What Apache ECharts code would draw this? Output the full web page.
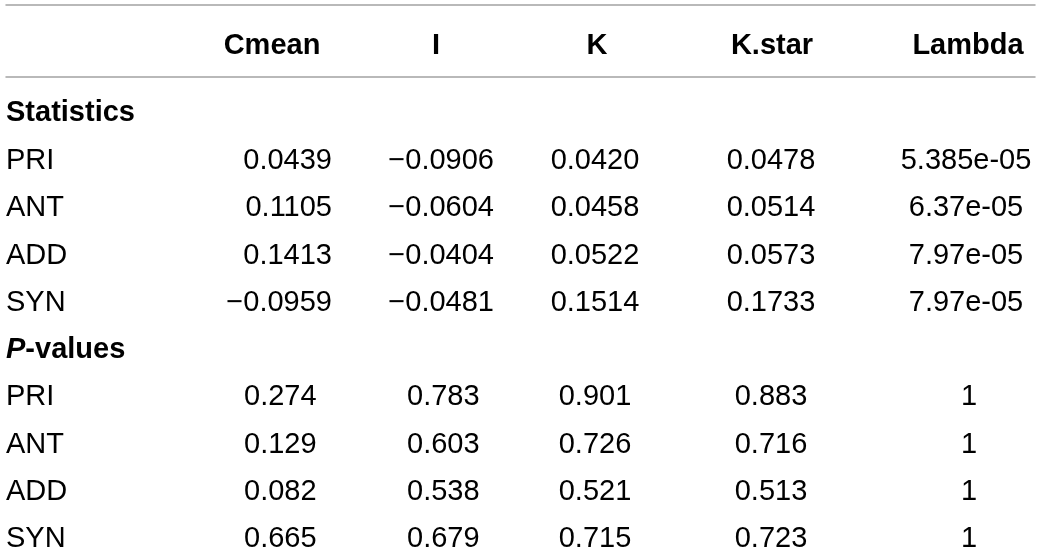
<!DOCTYPE html>
<html>
<head>
<meta charset="utf-8">
<title>Statistics and P-values</title>
<script src="https://cdn.jsdelivr.net/npm/echarts@6/dist/echarts.min.js"></script>
<style>
    html, body { margin: 0; padding: 0; background: #fff; }
    #main { width: 1040px; height: 554px; }
</style>
</head>
<body>
<div id="main"></div>
<script>
// column headers and row names
var columns = ['Cmean', 'I', 'K', 'K.star', 'Lambda'];
var groups = ['Statistics', 'P-values'];
var rowNames = ['PRI', 'ANT', 'ADD', 'SYN'];

// Statistics block
var statCmean = [0.0439, 0.1105, 0.1413, -0.0959];
var statI = [-0.0906, -0.0604, -0.0404, -0.0481];
var statK = [0.0420, 0.0458, 0.0522, 0.1514];
var statKstar = [0.0478, 0.0514, 0.0573, 0.1733];
var statLambda = [5.385e-5, 6.37e-5, 7.97e-5, 7.97e-5];

// P-values block
var pCmean = [0.274, 0.129, 0.082, 0.665];
var pI = [0.783, 0.603, 0.538, 0.679];
var pK = [0.901, 0.726, 0.521, 0.715];
var pKstar = [0.883, 0.716, 0.513, 0.723];
var pLambda = [1, 1, 1, 1];

// layout: x anchors (px) and text alignment per column
var headX = [272, 436, 597, 772, 968];
var statX = [332, 494, 595, 771, 966];
var statAlign = ['right', 'right', 'center', 'center', 'center'];
var pX = [244, 407, 595, 771, 969];
var pAlign = ['left', 'left', 'center', 'center', 'center'];
var labelX = 6;

var FONT = 'Liberation Sans, Arial, Helvetica, sans-serif';
var SIZE = 29;
var TEXT = '#000';
var RULE = '#a3a3a3';

function fmtStat(v) {
    return v.toFixed(4).replace('-', '\u2212');
}
function fmtSci(v) {
    // 5.385e-5 -> 5.385e-05
    return v.toExponential().replace(/e([+-])(\d)$/, function (m, s, d) { return 'e' + s + '0' + d; });
}
function fmtP(v) {
    return Number.isInteger(v) ? String(v) : v.toFixed(3);
}

// body rows: 0 = Statistics, 1-4 rows, 5 = P-values, 6-9 rows
var rowKeys = [groups[0]].concat(rowNames.map(function (r) { return 's:' + r; }))
    .concat([groups[1]]).concat(rowNames.map(function (r) { return 'p:' + r; }));

function textSeries(name, gridIdx, data, align, extraLabel) {
    var label = {
        show: true,
        position: 'inside',
        align: align,
        verticalAlign: 'middle',
        fontFamily: FONT,
        fontSize: SIZE,
        color: TEXT,
        textBorderWidth: 0,
        opacity: 1,
        offset: [0, 2],
        formatter: function (p) { return p.value[2]; }
    };
    for (var k in extraLabel) label[k] = extraLabel[k];
    return {
        name: name,
        type: 'scatter',
        xAxisIndex: gridIdx === 0 ? 0 : 2,
        yAxisIndex: gridIdx,
        symbolSize: 1,
        itemStyle: { color: '#fff', opacity: 0 },
        silent: true,
        animation: false,
        label: label,
        data: data
    };
}

var series = [];

// header row
series.push(textSeries('header', 0, columns.map(function (c, i) {
    return [headX[i], 0, c];
}), 'center', { fontWeight: 'bold', offset: [0, 5] }));

// group titles
series.push(textSeries('groups', 1, [[labelX, 0, groups[0]]], 'left', { fontWeight: 'bold', offset: [0, 1] }));
series.push(textSeries('groupP', 1, [[labelX, 5, groups[1]]], 'left', {
    formatter: function () { return '{bi|P}{b|-values}'; },
    rich: {
        bi: { fontFamily: FONT, fontSize: SIZE, fontWeight: 'bold', fontStyle: 'italic', color: TEXT },
        b: { fontFamily: FONT, fontSize: SIZE, fontWeight: 'bold', color: TEXT }
    }
}));

// row names
var names = [];
rowNames.forEach(function (r, i) {
    names.push([labelX, 1 + i, r]);
    names.push([labelX, 6 + i, r]);
});
series.push(textSeries('rows', 1, names, 'left', {}));

// values
var statCols = [statCmean, statI, statK, statKstar, statLambda];
var pCols = [pCmean, pI, pK, pKstar, pLambda];
statCols.forEach(function (col, c) {
    series.push(textSeries('stat ' + columns[c], 1, col.map(function (v, i) {
        return [statX[c], 1 + i, c === 4 ? fmtSci(v) : fmtStat(v)];
    }), statAlign[c], {}));
});
pCols.forEach(function (col, c) {
    series.push(textSeries('p ' + columns[c], 1, col.map(function (v, i) {
        return [pX[c], 6 + i, fmtP(v)];
    }), pAlign[c], {}));
});

var ruleAxis = function (pos) {
    return {
        type: 'value', gridIndex: 0, position: pos, min: 6, max: 1035,
        axisLine: { show: true, onZero: false, lineStyle: { color: RULE, width: 1.5 } },
        axisTick: { show: false }, axisLabel: { show: false }, splitLine: { show: false }
    };
};

var option = {
    backgroundColor: '#fff',
    animation: false,
    grid: [
        { left: 6, right: 5, top: 5, bottom: 477 },
        { left: 6, right: 5, top: 112, bottom: 17 }
    ],
    xAxis: [
        ruleAxis('top'),
        ruleAxis('bottom'),
        {
            type: 'value', gridIndex: 1, min: 6, max: 1035, show: false
        }
    ],
    yAxis: [
        { type: 'category', gridIndex: 0, data: ['header'], show: false },
        { type: 'category', gridIndex: 1, data: rowKeys, inverse: true, boundaryGap: false, show: false }
    ],
    series: series
};

var myChart = echarts.init(document.getElementById('main'));
myChart.setOption(option);
</script>
</body>
</html>
